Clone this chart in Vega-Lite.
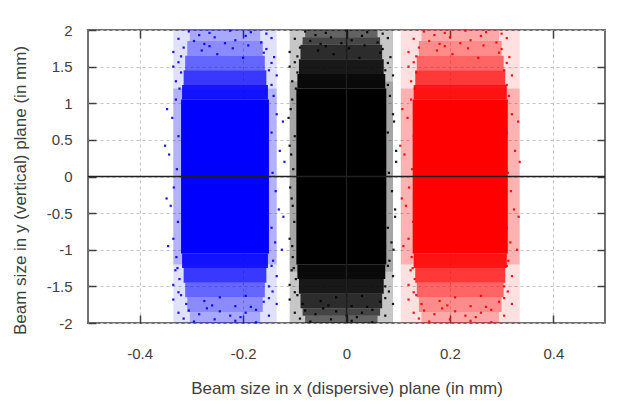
{
"$schema": "https://vega.github.io/schema/vega-lite/v6.json",
"width": 517, "height": 293,
"autosize": "none",
"padding": {"left": 88, "top": 30, "right": 19, "bottom": 78},
"background": "white",
"config": {
 "view": {"stroke": "#707070", "strokeWidth": 2},
 "axis": {"labelFont": "Liberation Sans", "labelFontSize": 15, "labelColor": "#404040", "titleFont": "Liberation Sans", "titleFontSize": 17, "titleFontWeight": "normal", "titleColor": "#404040", "tickColor": "#404040", "tickWidth": 1.5, "gridColor": "#c4c4c4", "gridDash": [3, 3], "gridWidth": 1, "domain": false}
},
"datasets": {
 "bands": [
  {"c":"B","x1":-0.335,"x2":-0.135,"y1":-1.2,"y2":1.2,"d":0.3},
  {"c":"B","x1":-0.335,"x2":-0.135,"y1":1.2,"y2":2,"d":0.12},
  {"c":"B","x1":-0.335,"x2":-0.135,"y1":-2,"y2":-1.2,"d":0.12},
  {"c":"B","x1":-0.32,"x2":-0.15,"y1":-1.05,"y2":1.05,"d":1},
  {"c":"B","x1":-0.318,"x2":-0.152,"y1":1.05,"y2":1.25,"d":0.9},
  {"c":"B","x1":-0.318,"x2":-0.152,"y1":-1.25,"y2":-1.05,"d":0.9},
  {"c":"B","x1":-0.315,"x2":-0.155,"y1":1.25,"y2":1.45,"d":0.75},
  {"c":"B","x1":-0.315,"x2":-0.155,"y1":-1.45,"y2":-1.25,"d":0.75},
  {"c":"B","x1":-0.312,"x2":-0.158,"y1":1.45,"y2":1.65,"d":0.55},
  {"c":"B","x1":-0.312,"x2":-0.158,"y1":-1.65,"y2":-1.45,"d":0.55},
  {"c":"B","x1":-0.308,"x2":-0.162,"y1":1.65,"y2":1.85,"d":0.38},
  {"c":"B","x1":-0.308,"x2":-0.162,"y1":-1.85,"y2":-1.65,"d":0.38},
  {"c":"B","x1":-0.303,"x2":-0.167,"y1":1.85,"y2":2,"d":0.25},
  {"c":"B","x1":-0.303,"x2":-0.167,"y1":-2,"y2":-1.85,"d":0.25},
  {"c":"K","x1":-0.11,"x2":0.09,"y1":-1.3,"y2":1.3,"d":0.35},
  {"c":"K","x1":-0.11,"x2":0.09,"y1":1.3,"y2":2,"d":0.22},
  {"c":"K","x1":-0.11,"x2":0.09,"y1":-2,"y2":-1.3,"d":0.22},
  {"c":"K","x1":-0.097,"x2":0.077,"y1":-1.2,"y2":1.2,"d":1},
  {"c":"K","x1":-0.095,"x2":0.075,"y1":1.2,"y2":1.4,"d":0.95},
  {"c":"K","x1":-0.095,"x2":0.075,"y1":-1.4,"y2":-1.2,"d":0.95},
  {"c":"K","x1":-0.092,"x2":0.072,"y1":1.4,"y2":1.6,"d":0.88},
  {"c":"K","x1":-0.092,"x2":0.072,"y1":-1.6,"y2":-1.4,"d":0.88},
  {"c":"K","x1":-0.089,"x2":0.069,"y1":1.6,"y2":1.8,"d":0.78},
  {"c":"K","x1":-0.089,"x2":0.069,"y1":-1.8,"y2":-1.6,"d":0.78},
  {"c":"K","x1":-0.085,"x2":0.065,"y1":1.8,"y2":1.9,"d":0.65},
  {"c":"K","x1":-0.085,"x2":0.065,"y1":-1.9,"y2":-1.8,"d":0.65},
  {"c":"K","x1":-0.08,"x2":0.06,"y1":1.9,"y2":2,"d":0.5},
  {"c":"K","x1":-0.08,"x2":0.06,"y1":-2,"y2":-1.9,"d":0.5},
  {"c":"R","x1":0.105,"x2":0.335,"y1":-1.2,"y2":1.2,"d":0.3},
  {"c":"R","x1":0.105,"x2":0.335,"y1":1.2,"y2":2,"d":0.12},
  {"c":"R","x1":0.105,"x2":0.335,"y1":-2,"y2":-1.2,"d":0.12},
  {"c":"R","x1":0.128,"x2":0.312,"y1":-1.05,"y2":1.05,"d":1},
  {"c":"R","x1":0.13,"x2":0.31,"y1":1.05,"y2":1.25,"d":0.9},
  {"c":"R","x1":0.13,"x2":0.31,"y1":-1.25,"y2":-1.05,"d":0.9},
  {"c":"R","x1":0.133,"x2":0.307,"y1":1.25,"y2":1.45,"d":0.75},
  {"c":"R","x1":0.133,"x2":0.307,"y1":-1.45,"y2":-1.25,"d":0.75},
  {"c":"R","x1":0.136,"x2":0.304,"y1":1.45,"y2":1.65,"d":0.55},
  {"c":"R","x1":0.136,"x2":0.304,"y1":-1.65,"y2":-1.45,"d":0.55},
  {"c":"R","x1":0.14,"x2":0.3,"y1":1.65,"y2":1.85,"d":0.38},
  {"c":"R","x1":0.14,"x2":0.3,"y1":-1.85,"y2":-1.65,"d":0.38},
  {"c":"R","x1":0.145,"x2":0.295,"y1":1.85,"y2":2,"d":0.25},
  {"c":"R","x1":0.145,"x2":0.295,"y1":-2,"y2":-1.85,"d":0.25}
 ],
 "pts": [
  {"c":"B","x":-0.33,"y":1.05},{"c":"B","x":-0.337,"y":0.8},{"c":"B","x":-0.325,"y":0.55},{"c":"B","x":-0.343,"y":0.3},{"c":"B","x":-0.328,"y":0.1},{"c":"B","x":-0.334,"y":-0.15},{"c":"B","x":-0.34,"y":-0.4},{"c":"B","x":-0.326,"y":-0.62},{"c":"B","x":-0.335,"y":-0.85},{"c":"B","x":-0.329,"y":-1.1},
  {"c":"B","x":-0.347,"y":0.92},{"c":"B","x":-0.348,"y":-0.3},{"c":"B","x":-0.351,"y":0.42},{"c":"B","x":-0.345,"y":-0.95},{"c":"B","x":-0.141,"y":1.1},{"c":"B","x":-0.135,"y":0.85},{"c":"B","x":-0.145,"y":0.6},{"c":"B","x":-0.129,"y":0.35},{"c":"B","x":-0.143,"y":0.05},{"c":"B","x":-0.137,"y":-0.2},
  {"c":"B","x":-0.131,"y":-0.45},{"c":"B","x":-0.145,"y":-0.7},{"c":"B","x":-0.138,"y":-0.9},{"c":"B","x":-0.142,"y":-1.15},{"c":"B","x":-0.123,"y":0.75},{"c":"B","x":-0.122,"y":-0.55},{"c":"B","x":-0.12,"y":0.2},{"c":"B","x":-0.125,"y":-1.0},{"c":"B","x":-0.305,"y":1.98},{"c":"B","x":-0.265,"y":1.96},
  {"c":"B","x":-0.225,"y":1.99},{"c":"B","x":-0.185,"y":1.97},{"c":"B","x":-0.155,"y":1.95},{"c":"B","x":-0.285,"y":1.93},{"c":"B","x":-0.325,"y":1.88},{"c":"B","x":-0.295,"y":1.85},{"c":"B","x":-0.255,"y":1.9},{"c":"B","x":-0.215,"y":1.86},{"c":"B","x":-0.195,"y":1.92},{"c":"B","x":-0.165,"y":1.83},
  {"c":"B","x":-0.275,"y":1.81},{"c":"B","x":-0.145,"y":1.89},{"c":"B","x":-0.235,"y":1.82},{"c":"B","x":-0.335,"y":1.7},{"c":"B","x":-0.315,"y":1.76},{"c":"B","x":-0.32,"y":1.64},{"c":"B","x":-0.28,"y":1.72},{"c":"B","x":-0.25,"y":1.67},{"c":"B","x":-0.22,"y":1.75},{"c":"B","x":-0.2,"y":1.62},
  {"c":"B","x":-0.16,"y":1.69},{"c":"B","x":-0.155,"y":1.74},{"c":"B","x":-0.14,"y":1.63},{"c":"B","x":-0.265,"y":1.78},{"c":"B","x":-0.19,"y":1.79},{"c":"B","x":-0.335,"y":1.5},{"c":"B","x":-0.32,"y":1.42},{"c":"B","x":-0.325,"y":1.56},{"c":"B","x":-0.15,"y":1.45},{"c":"B","x":-0.145,"y":1.55},
  {"c":"B","x":-0.135,"y":1.38},{"c":"B","x":-0.33,"y":1.3},{"c":"B","x":-0.145,"y":1.25},{"c":"B","x":-0.323,"y":1.2},{"c":"B","x":-0.295,"y":-1.98},{"c":"B","x":-0.255,"y":-1.95},{"c":"B","x":-0.215,"y":-1.97},{"c":"B","x":-0.175,"y":-1.99},{"c":"B","x":-0.315,"y":-1.94},{"c":"B","x":-0.205,"y":-1.92},
  {"c":"B","x":-0.325,"y":-1.86},{"c":"B","x":-0.285,"y":-1.88},{"c":"B","x":-0.245,"y":-1.84},{"c":"B","x":-0.195,"y":-1.86},{"c":"B","x":-0.175,"y":-1.82},{"c":"B","x":-0.15,"y":-1.9},{"c":"B","x":-0.27,"y":-1.8},{"c":"B","x":-0.225,"y":-1.9},{"c":"B","x":-0.305,"y":-1.83},{"c":"B","x":-0.335,"y":-1.68},
  {"c":"B","x":-0.31,"y":-1.74},{"c":"B","x":-0.32,"y":-1.62},{"c":"B","x":-0.275,"y":-1.7},{"c":"B","x":-0.245,"y":-1.65},{"c":"B","x":-0.215,"y":-1.77},{"c":"B","x":-0.195,"y":-1.63},{"c":"B","x":-0.16,"y":-1.71},{"c":"B","x":-0.15,"y":-1.66},{"c":"B","x":-0.135,"y":-1.74},{"c":"B","x":-0.26,"y":-1.76},
  {"c":"B","x":-0.185,"y":-1.78},{"c":"B","x":-0.335,"y":-1.48},{"c":"B","x":-0.323,"y":-1.4},{"c":"B","x":-0.325,"y":-1.58},{"c":"B","x":-0.15,"y":-1.5},{"c":"B","x":-0.143,"y":-1.57},{"c":"B","x":-0.135,"y":-1.36},{"c":"B","x":-0.331,"y":-1.28},{"c":"B","x":-0.145,"y":-1.22},{"c":"B","x":-0.327,"y":-1.25},
  {"c":"K","x":-0.105,"y":1.05},{"c":"K","x":-0.112,"y":0.8},{"c":"K","x":-0.1,"y":0.55},{"c":"K","x":-0.107,"y":0.3},{"c":"K","x":-0.103,"y":0.1},{"c":"K","x":-0.109,"y":-0.15},{"c":"K","x":-0.104,"y":-0.4},{"c":"K","x":-0.101,"y":-0.62},{"c":"K","x":-0.11,"y":-0.85},{"c":"K","x":-0.104,"y":-1.1},
  {"c":"K","x":-0.108,"y":0.92},{"c":"K","x":-0.106,"y":-0.3},{"c":"K","x":-0.11,"y":0.42},{"c":"K","x":-0.105,"y":-0.95},{"c":"K","x":0.084,"y":1.1},{"c":"K","x":0.09,"y":0.85},{"c":"K","x":0.08,"y":0.6},{"c":"K","x":0.096,"y":0.35},{"c":"K","x":0.082,"y":0.05},{"c":"K","x":0.088,"y":-0.2},
  {"c":"K","x":0.094,"y":-0.45},{"c":"K","x":0.08,"y":-0.7},{"c":"K","x":0.087,"y":-0.9},{"c":"K","x":0.083,"y":-1.15},{"c":"K","x":0.092,"y":0.75},{"c":"K","x":0.094,"y":-0.55},{"c":"K","x":0.096,"y":0.2},{"c":"K","x":0.091,"y":-1.0},{"c":"K","x":-0.08,"y":1.98},{"c":"K","x":-0.04,"y":1.96},
  {"c":"K","x":0,"y":1.99},{"c":"K","x":0.04,"y":1.97},{"c":"K","x":0.07,"y":1.95},{"c":"K","x":-0.06,"y":1.93},{"c":"K","x":-0.1,"y":1.88},{"c":"K","x":-0.07,"y":1.85},{"c":"K","x":-0.03,"y":1.9},{"c":"K","x":0.01,"y":1.86},{"c":"K","x":0.03,"y":1.92},{"c":"K","x":0.06,"y":1.83},
  {"c":"K","x":-0.05,"y":1.81},{"c":"K","x":0.08,"y":1.89},{"c":"K","x":-0.01,"y":1.82},{"c":"K","x":-0.11,"y":1.7},{"c":"K","x":-0.09,"y":1.76},{"c":"K","x":-0.095,"y":1.64},{"c":"K","x":-0.055,"y":1.72},{"c":"K","x":-0.025,"y":1.67},{"c":"K","x":0.005,"y":1.75},{"c":"K","x":0.025,"y":1.62},
  {"c":"K","x":0.065,"y":1.69},{"c":"K","x":0.07,"y":1.74},{"c":"K","x":0.085,"y":1.63},{"c":"K","x":-0.04,"y":1.78},{"c":"K","x":0.035,"y":1.79},{"c":"K","x":-0.11,"y":1.5},{"c":"K","x":-0.095,"y":1.42},{"c":"K","x":-0.1,"y":1.56},{"c":"K","x":0.075,"y":1.45},{"c":"K","x":0.08,"y":1.55},
  {"c":"K","x":0.09,"y":1.38},{"c":"K","x":-0.105,"y":1.3},{"c":"K","x":0.08,"y":1.25},{"c":"K","x":-0.098,"y":1.2},{"c":"K","x":-0.07,"y":-1.98},{"c":"K","x":-0.03,"y":-1.95},{"c":"K","x":0.01,"y":-1.97},{"c":"K","x":0.05,"y":-1.99},{"c":"K","x":-0.09,"y":-1.94},{"c":"K","x":0.02,"y":-1.92},
  {"c":"K","x":-0.1,"y":-1.86},{"c":"K","x":-0.06,"y":-1.88},{"c":"K","x":-0.02,"y":-1.84},{"c":"K","x":0.03,"y":-1.86},{"c":"K","x":0.05,"y":-1.82},{"c":"K","x":0.075,"y":-1.9},{"c":"K","x":-0.045,"y":-1.8},{"c":"K","x":0,"y":-1.9},{"c":"K","x":-0.08,"y":-1.83},{"c":"K","x":-0.11,"y":-1.68},
  {"c":"K","x":-0.085,"y":-1.74},{"c":"K","x":-0.095,"y":-1.62},{"c":"K","x":-0.05,"y":-1.7},{"c":"K","x":-0.02,"y":-1.65},{"c":"K","x":0.01,"y":-1.77},{"c":"K","x":0.03,"y":-1.63},{"c":"K","x":0.065,"y":-1.71},{"c":"K","x":0.075,"y":-1.66},{"c":"K","x":0.09,"y":-1.74},{"c":"K","x":-0.035,"y":-1.76},
  {"c":"K","x":0.04,"y":-1.78},{"c":"K","x":-0.11,"y":-1.48},{"c":"K","x":-0.098,"y":-1.4},{"c":"K","x":-0.1,"y":-1.58},{"c":"K","x":0.075,"y":-1.5},{"c":"K","x":0.082,"y":-1.57},{"c":"K","x":0.09,"y":-1.36},{"c":"K","x":-0.106,"y":-1.28},{"c":"K","x":0.08,"y":-1.22},{"c":"K","x":-0.102,"y":-1.25},
  {"c":"R","x":0.125,"y":1.05},{"c":"R","x":0.118,"y":0.8},{"c":"R","x":0.13,"y":0.55},{"c":"R","x":0.112,"y":0.3},{"c":"R","x":0.127,"y":0.1},{"c":"R","x":0.121,"y":-0.15},{"c":"R","x":0.115,"y":-0.4},{"c":"R","x":0.129,"y":-0.62},{"c":"R","x":0.12,"y":-0.85},{"c":"R","x":0.126,"y":-1.1},
  {"c":"R","x":0.108,"y":0.92},{"c":"R","x":0.107,"y":-0.3},{"c":"R","x":0.104,"y":0.42},{"c":"R","x":0.11,"y":-0.95},{"c":"R","x":0.314,"y":1.1},{"c":"R","x":0.32,"y":0.85},{"c":"R","x":0.31,"y":0.6},{"c":"R","x":0.326,"y":0.35},{"c":"R","x":0.312,"y":0.05},{"c":"R","x":0.318,"y":-0.2},
  {"c":"R","x":0.324,"y":-0.45},{"c":"R","x":0.31,"y":-0.7},{"c":"R","x":0.317,"y":-0.9},{"c":"R","x":0.313,"y":-1.15},{"c":"R","x":0.332,"y":0.75},{"c":"R","x":0.333,"y":-0.55},{"c":"R","x":0.335,"y":0.2},{"c":"R","x":0.33,"y":-1.0},{"c":"R","x":0.15,"y":1.98},{"c":"R","x":0.19,"y":1.96},
  {"c":"R","x":0.23,"y":1.99},{"c":"R","x":0.27,"y":1.97},{"c":"R","x":0.3,"y":1.95},{"c":"R","x":0.17,"y":1.93},{"c":"R","x":0.13,"y":1.88},{"c":"R","x":0.16,"y":1.85},{"c":"R","x":0.2,"y":1.9},{"c":"R","x":0.24,"y":1.86},{"c":"R","x":0.26,"y":1.92},{"c":"R","x":0.29,"y":1.83},
  {"c":"R","x":0.18,"y":1.81},{"c":"R","x":0.31,"y":1.89},{"c":"R","x":0.22,"y":1.82},{"c":"R","x":0.12,"y":1.7},{"c":"R","x":0.14,"y":1.76},{"c":"R","x":0.135,"y":1.64},{"c":"R","x":0.175,"y":1.72},{"c":"R","x":0.205,"y":1.67},{"c":"R","x":0.235,"y":1.75},{"c":"R","x":0.255,"y":1.62},
  {"c":"R","x":0.295,"y":1.69},{"c":"R","x":0.3,"y":1.74},{"c":"R","x":0.315,"y":1.63},{"c":"R","x":0.19,"y":1.78},{"c":"R","x":0.265,"y":1.79},{"c":"R","x":0.12,"y":1.5},{"c":"R","x":0.135,"y":1.42},{"c":"R","x":0.13,"y":1.56},{"c":"R","x":0.305,"y":1.45},{"c":"R","x":0.31,"y":1.55},
  {"c":"R","x":0.32,"y":1.38},{"c":"R","x":0.125,"y":1.3},{"c":"R","x":0.31,"y":1.25},{"c":"R","x":0.132,"y":1.2},{"c":"R","x":0.16,"y":-1.98},{"c":"R","x":0.2,"y":-1.95},{"c":"R","x":0.24,"y":-1.97},{"c":"R","x":0.28,"y":-1.99},{"c":"R","x":0.14,"y":-1.94},{"c":"R","x":0.25,"y":-1.92},
  {"c":"R","x":0.13,"y":-1.86},{"c":"R","x":0.17,"y":-1.88},{"c":"R","x":0.21,"y":-1.84},{"c":"R","x":0.26,"y":-1.86},{"c":"R","x":0.28,"y":-1.82},{"c":"R","x":0.305,"y":-1.9},{"c":"R","x":0.185,"y":-1.8},{"c":"R","x":0.23,"y":-1.9},{"c":"R","x":0.15,"y":-1.83},{"c":"R","x":0.12,"y":-1.68},
  {"c":"R","x":0.145,"y":-1.74},{"c":"R","x":0.135,"y":-1.62},{"c":"R","x":0.18,"y":-1.7},{"c":"R","x":0.21,"y":-1.65},{"c":"R","x":0.24,"y":-1.77},{"c":"R","x":0.26,"y":-1.63},{"c":"R","x":0.295,"y":-1.71},{"c":"R","x":0.305,"y":-1.66},{"c":"R","x":0.32,"y":-1.74},{"c":"R","x":0.195,"y":-1.76},
  {"c":"R","x":0.27,"y":-1.78},{"c":"R","x":0.12,"y":-1.48},{"c":"R","x":0.132,"y":-1.4},{"c":"R","x":0.13,"y":-1.58},{"c":"R","x":0.305,"y":-1.5},{"c":"R","x":0.312,"y":-1.57},{"c":"R","x":0.32,"y":-1.36},{"c":"R","x":0.124,"y":-1.28},{"c":"R","x":0.31,"y":-1.22},{"c":"R","x":0.128,"y":-1.25}
 ],
 "zero": [{"v": 0}]
},
"layer": [
 {
  "data": {"name": "bands"},
  "mark": {"type": "rect"},
  "encoding": {
   "x": {"field": "x1", "type": "quantitative", "scale": {"domain": [-0.5, 0.5], "nice": false, "zero": false},
         "axis": {"orient": "bottom", "values": [-0.4, -0.2, 0, 0.2, 0.4], "labelExpr": "'' + datum.value", "grid": true, "ticks": true, "tickSize": -8, "labelPadding": 31, "title": "Beam size in x (dispersive) plane (in mm)", "titleY": 65, "titleBaseline": "middle"}},
   "x2": {"field": "x2"},
   "y": {"field": "y1", "type": "quantitative", "scale": {"domain": [-2, 2], "nice": false, "zero": false},
         "axis": {"orient": "left", "values": [-2, -1.5, -1, -0.5, 0, 0.5, 1, 1.5, 2], "labelExpr": "'' + datum.value", "grid": true, "ticks": true, "tickSize": -8, "labelPadding": 24, "title": "Beam size in y (vertical) plane (in mm)", "titleX": -68, "titleY": 160, "titleAngle": -90, "titleBaseline": "middle", "titleAlign": "center"}},
   "y2": {"field": "y2"},
   "color": {"field": "c", "type": "nominal", "scale": {"domain": ["B", "K", "R"], "range": ["#0000ff", "#000000", "#ff0000"]}, "legend": null},
   "opacity": {"field": "d", "type": "quantitative", "scale": {"domain": [0, 1], "range": [0, 1]}, "legend": null}
  }
 },
 {
  "data": {"name": "pts"},
  "mark": {"type": "square", "size": 5, "opacity": 0.9},
  "encoding": {
   "x": {"field": "x", "type": "quantitative", "axis": {"orient": "top", "values": [-0.4, -0.2, 0, 0.2, 0.4], "labels": false, "grid": false, "tickSize": -8, "title": null}},
   "y": {"field": "y", "type": "quantitative", "axis": {"orient": "right", "values": [-1.5, -1, -0.5, 0, 0.5, 1, 1.5], "labels": false, "grid": false, "tickSize": -8, "title": null}},
   "color": {"field": "c", "type": "nominal", "legend": null}
  }
 },
 {
  "data": {"name": "zero"},
  "mark": {"type": "rule", "color": "#202020", "strokeWidth": 1.3},
  "encoding": {"x": {"field": "v", "type": "quantitative", "axis": null}}
 },
 {
  "data": {"name": "zero"},
  "mark": {"type": "rule", "color": "#202020", "strokeWidth": 1.3},
  "encoding": {"y": {"field": "v", "type": "quantitative", "axis": null}}
 }
],
"resolve": {"axis": {"x": "independent", "y": "independent"}}
}
